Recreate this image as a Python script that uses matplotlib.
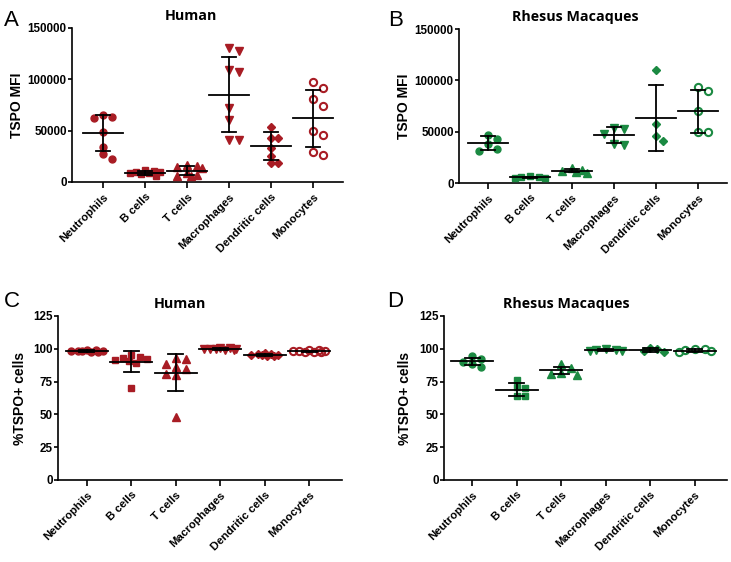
import numpy as np
import matplotlib
matplotlib.use("Agg")
import matplotlib.pyplot as plt

# ─── Data ────────────────────────────────────────────────────────────────────

CELLS = ["Neutrophils", "B cells", "T cells", "Macrophages", "Dendritic cells", "Monocytes"]

# A — Human TSPO MFI
human_mfi = [
    [61900, 64800, 62900, 48300, 34300, 26900, 22400],
    [11500, 10500, 10000, 9500, 9000, 8500, 7500, 5500],
    [16500, 15500, 14500, 13500, 9000, 6500, 5500, 5500],
    [128000, 130500, 107000, 109500, 71600, 60300, 40800, 40800],
    [53800, 42400, 43000, 32700, 25300, 18100, 18100],
    [97500, 91700, 80400, 73900, 45700, 49600, 26200, 29500],
]
human_mfi_mean = [48000, 9000, 11000, 85200, 35000, 61900]
human_mfi_sd = [17600, 2000, 4500, 36800, 13500, 27500]

# B — Rhesus TSPO MFI
rhesus_mfi = [
    [46500, 42500, 38000, 31000, 33000],
    [6500, 5500, 5000, 4500, 5500],
    [15000, 12500, 11000, 11500, 10000],
    [53900, 52900, 47400, 36700, 37700],
    [110000, 57500, 41100, 45400],
    [93200, 89300, 69800, 49700, 49700],
]
rhesus_mfi_mean = [38500, 5400, 12000, 46700, 63300, 69800]
rhesus_mfi_sd = [6800, 800, 1700, 7400, 31800, 20800]

# C — Human %TSPO+ cells
human_pct = [
    [98.5, 99.0, 98.0, 98.8, 97.8, 98.2, 98.6, 97.5],
    [95.5, 94.0, 93.0, 92.0, 91.5, 91.0, 89.0, 70.0],
    [92.0, 92.8, 88.7, 84.4, 86.2, 80.1, 81.1, 48.2],
    [100.5, 99.8, 100.2, 99.0, 100.0, 99.5, 100.8, 99.2],
    [96.5, 95.0, 96.0, 94.5, 95.5, 96.2, 94.8, 95.2],
    [98.5, 97.8, 98.8, 98.0, 97.2, 99.0, 98.2, 97.5],
]
human_pct_mean = [98.2, 90.0, 81.9, 99.8, 95.5, 98.1]
human_pct_sd = [0.6, 8.0, 14.3, 0.7, 0.8, 0.6]

# D — Rhesus %TSPO+ cells
rhesus_pct = [
    [92.5, 90.2, 94.5, 86.1, 88.7],
    [76.2, 70.4, 70.9, 64.0, 64.0],
    [88.7, 85.1, 81.0, 80.0, 81.8],
    [99.8, 99.0, 99.4, 98.6, 98.2],
    [97.5, 100.0, 98.0, 100.5],
    [98.5, 99.5, 99.2, 100.0, 97.5],
]
rhesus_pct_mean = [90.4, 68.8, 83.6, 99.0, 99.0, 98.6]
rhesus_pct_sd = [2.9, 4.8, 2.8, 0.6, 1.3, 1.0]

# ─── Style ───────────────────────────────────────────────────────────────────

RED = "#A81C24"
GREEN = "#1B8A42"
MARKERS = ["o", "s", "^", "v", "D", "o"]
FILLED = [True, True, True, True, True, False]
MSIZE = [5.0, 4.6, 5.2, 5.2, 3.6, 5.2]

plt.rcParams.update({
    "font.family": ["Liberation Sans", "DejaVu Sans"],
    "font.weight": "bold",
    "axes.linewidth": 1.2,
})

fig = plt.figure(figsize=(7.31, 5.62), dpi=100)


def px_rect(left, top, right, bottom):
    W, H = 731, 562
    return [left / W, 1 - bottom / H, (right - left) / W, (bottom - top) / H]


def swarm(ax, x0, vals, d, maxhalf=0.36):
    """deterministic scatter layout: avoid overlaps, capped width"""
    pts = ax.transData.transform([(x0, v) for v in vals])
    unit = ax.transData.transform((x0 + 1, 0))[0] - ax.transData.transform((x0, 0))[0]
    cap = maxhalf * unit
    step = d * 1.35
    coarse = [0.0]
    k = 1
    while k * step <= cap:
        coarse += [k * step, -k * step]
        k += 1
    fine = np.linspace(-cap, cap, 15)
    order = np.argsort(-np.asarray(vals))
    placed = []
    offs = np.zeros(len(vals))
    for i in order:
        y = pts[i][1]

        def gap(c):
            if not placed:
                return np.inf
            return min(np.hypot(c - px, y - py) for px, py in placed)

        choice = None
        for c in coarse:
            if gap(c) >= d * 1.05:
                choice = c
                break
        if choice is None:
            choice = max(fine, key=gap)
        offs[i] = choice
        placed.append((choice, y))
    xs = []
    for i in range(len(vals)):
        xs.append(ax.transData.inverted().transform((pts[i][0] + offs[i], pts[i][1]))[0])
    return xs


def panel(rect, xlim, ylim, yticks, ylabel, labelpad, title, title_x, letter,
          letter_xy, data, means, sds, color):
    ax = fig.add_axes(rect)
    ax.set_xlim(*xlim)
    ax.set_ylim(*ylim)
    for s in ("top", "right"):
        ax.spines[s].set_visible(False)
    ax.spines["left"].set_bounds(ylim[0], yticks[-1])

    for i, vals in enumerate(data):
        ms = MSIZE[i]
        xs = swarm(ax, i, vals, ms * 100 / 72)
        if FILLED[i]:
            ax.plot(xs, vals, ls="none", marker=MARKERS[i], ms=ms, color=color,
                    mec=color, zorder=3)
        else:
            ax.plot(xs, vals, ls="none", marker=MARKERS[i], ms=ms, mfc="none",
                    mec=color, mew=1.5, zorder=3)
        m, sd = means[i], sds[i]
        ax.plot([i - 0.47, i + 0.47], [m, m], color="black", lw=1.3, zorder=4)
        ax.plot([i, i], [m - sd, m + sd], color="black", lw=1.3, zorder=4)
        for e in (m - sd, m + sd):
            ax.plot([i - 0.17, i + 0.17], [e, e], color="black", lw=1.3, zorder=4)

    ax.set_yticks(yticks)
    ax.set_xticks(range(len(CELLS)))
    ax.set_xticklabels(CELLS, rotation=45, ha="right", rotation_mode="anchor",
                       fontsize=8.2, fontweight="bold")
    ax.tick_params(axis="y", direction="out", length=3, width=1.2, pad=0.8,
                   labelsize=8.4)
    ax.tick_params(axis="x", direction="out", length=4, width=1.2, pad=3)
    for lab in ax.get_yticklabels():
        lab.set_fontweight("bold")
    ax.set_ylabel(ylabel, fontsize=10, fontweight="bold", labelpad=labelpad)
    ax.set_title(title, fontsize=10.3, fontweight="bold", family="Open Sans",
                 x=title_x, pad=6)
    fig.text(letter_xy[0] / 731, 1 - letter_xy[1] / 562, letter, fontsize=16,
             fontweight="normal", ha="left", va="top")
    return ax


panel(px_rect(72, 28, 343, 182), (-0.74, 5.71), (0, 150000),
      [0, 50000, 100000, 150000], "TSPO MFI", 2.5, "Human", 0.439, "A", (4, 10),
      human_mfi, human_mfi_mean, human_mfi_sd, RED)
panel(px_rect(459, 29, 727, 183), (-0.69, 5.69), (0, 150000),
      [0, 50000, 100000, 150000], "TSPO MFI", 2.5, "Rhesus Macaques", 0.433,
      "B", (388, 10), rhesus_mfi, rhesus_mfi_mean, rhesus_mfi_sd, GREEN)
panel(px_rect(58, 316, 342, 480), (-0.65, 5.74), (0, 125),
      [0, 25, 50, 75, 100, 125], "%TSPO+ cells", 4.5, "Human", 0.43, "C", (4, 291),
      human_pct, human_pct_mean, human_pct_sd, RED)
panel(px_rect(444, 316, 727, 480), (-0.63, 5.72), (0, 125),
      [0, 25, 50, 75, 100, 125], "%TSPO+ cells", 5, "Rhesus Macaques", 0.431,
      "D", (387, 291), rhesus_pct, rhesus_pct_mean, rhesus_pct_sd, GREEN)

fig.savefig("out.png", dpi=100)
